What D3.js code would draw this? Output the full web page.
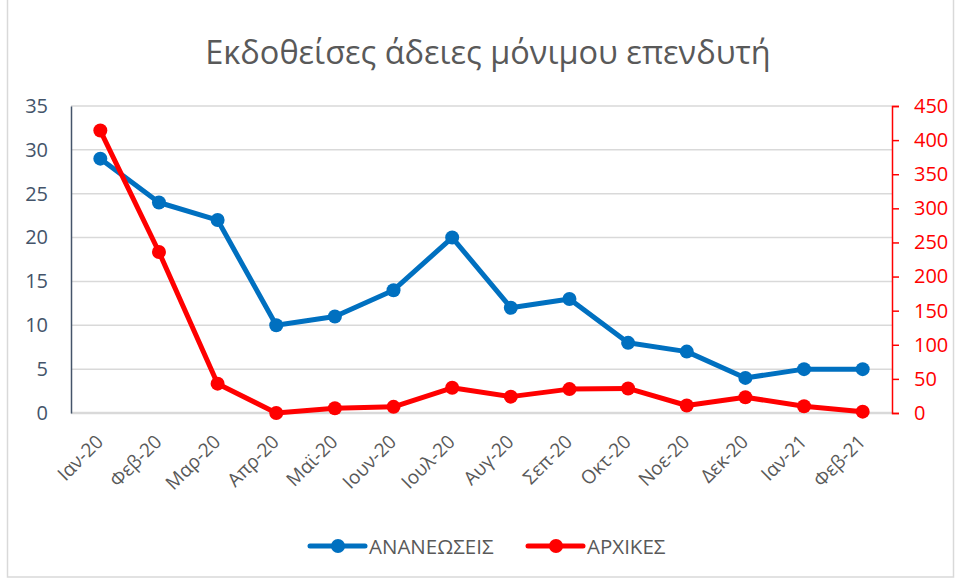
<!DOCTYPE html>
<html>
<head>
<meta charset="utf-8">
<script src="https://cdn.jsdelivr.net/npm/d3@7"></script>
<style>
  body { margin: 0; background: #fff; }
  svg { display: block; font-family: "Open Sans", "Noto Sans", sans-serif; }
</style>
</head>
<body>
<svg id="chart" width="955" height="579"></svg>
<script>
// DATA
var months = ['Ιαν-20', 'Φεβ-20', 'Μαρ-20', 'Απρ-20', 'Μαϊ-20', 'Ιουν-20', 'Ιουλ-20',
  'Αυγ-20', 'Σεπ-20', 'Οκτ-20', 'Νοε-20', 'Δεκ-20', 'Ιαν-21', 'Φεβ-21'];
var renewals = [29, 24, 22, 10, 11, 14, 20, 12, 13, 8, 7, 4, 5, 5];
var initial = [414, 236, 43, 0, 7, 9, 37, 24, 35, 36, 11, 23, 10, 2];
var leftTicks = [0, 5, 10, 15, 20, 25, 30, 35];
var rightTicks = [0, 50, 100, 150, 200, 250, 300, 350, 400, 450];

var blue = '#0070C0', red = '#FF0000';
var margin = { top: 106, left: 71, right: 63, bottom: 166 };
var W = 955, H = 579;
var width = W - margin.left - margin.right;
var height = H - margin.top - margin.bottom;

var svg = d3.select('#chart');

// frame
svg.append('rect')
  .attr('x', 7.5).attr('y', -2).attr('width', 946).attr('height', 579)
  .attr('fill', 'none').attr('stroke', '#d9d9d9').attr('stroke-width', 1.5);

// title
svg.append('text')
  .attr('x', 488).attr('y', 64)
  .attr('text-anchor', 'middle')
  .attr('fill', '#595959')
  .style('font-size', '32.5px')
  .text('Εκδοθείσες άδειες μόνιμου επενδυτή');

var g = svg.append('g').attr('transform', 'translate(' + margin.left + ',' + margin.top + ')');

// SCALES
var x = d3.scaleBand().domain(months).range([0, width]);
var yL = d3.scaleLinear().domain([0, 35]).range([height, 0]);
var yR = d3.scaleLinear().domain([0, 450]).range([height, 0]);
function cx(d) { return x(d) + x.bandwidth() / 2; }

// gridlines
g.append('g').selectAll('line')
  .data(leftTicks)
  .enter().append('line')
  .attr('x1', 0).attr('x2', width)
  .attr('y1', function(d) { return yL(d); })
  .attr('y2', function(d) { return yL(d); })
  .attr('stroke', '#d9d9d9')
  .attr('stroke-width', function(d) { return d === 0 ? 2.5 : 1.5; });

// left axis
var axL = g.append('g')
  .call(d3.axisLeft(yL).tickValues(leftTicks).tickSize(0).tickPadding(23));
axL.select('.domain').attr('stroke', '#44546A').attr('stroke-width', 1.5);
axL.selectAll('text').attr('fill', '#44546A').style('font-size', '20px')
  .style('font-family', '"Open Sans", sans-serif');

// right axis
var axR = g.append('g')
  .attr('transform', 'translate(' + width + ',0)')
  .call(d3.axisRight(yR).tickValues(rightTicks).tickSize(7).tickPadding(15));
axR.select('.domain').attr('stroke', red).attr('stroke-width', 1.5);
axR.selectAll('.tick line').attr('stroke', red).attr('stroke-width', 1.5);
axR.selectAll('text').attr('fill', red).style('font-size', '20px')
  .style('font-family', '"Open Sans", sans-serif');

// x axis labels
var axX = g.append('g')
  .attr('transform', 'translate(0,' + height + ')')
  .call(d3.axisBottom(x).tickSize(0).tickPadding(0));
axX.select('.domain').remove();
axX.selectAll('text')
  .attr('fill', '#595959')
  .style('font-size', '19px')
  .style('font-family', '"Open Sans", sans-serif')
  .attr('text-anchor', 'end')
  .attr('dy', null)
  .attr('transform', 'translate(4,30) rotate(-45)');

// lines
function drawSeries(values, scale, color) {
  var line = d3.line()
    .x(function(d, i) { return cx(months[i]); })
    .y(function(d) { return scale(d); });
  g.append('path')
    .datum(values)
    .attr('d', line)
    .attr('fill', 'none')
    .attr('stroke', color)
    .attr('stroke-width', 5)
    .attr('stroke-linejoin', 'round');
  g.append('g').selectAll('circle')
    .data(values)
    .enter().append('circle')
    .attr('cx', function(d, i) { return cx(months[i]); })
    .attr('cy', function(d) { return scale(d); })
    .attr('r', 7)
    .attr('fill', color);
}
drawSeries(renewals, yL, blue);
drawSeries(initial, yR, red);

// legend
var legend = [
  { name: 'ΑΝΑΝΕΩΣΕΙΣ', color: blue, x: 310 },
  { name: 'ΑΡΧΙΚΕΣ', color: red, x: 528 }
];
var lg = svg.append('g').selectAll('g')
  .data(legend)
  .enter().append('g')
  .attr('transform', function(d) { return 'translate(' + d.x + ',546)'; });
lg.append('line')
  .attr('x1', 0).attr('x2', 55)
  .attr('stroke', function(d) { return d.color; })
  .attr('stroke-width', 5).attr('stroke-linecap', 'round');
lg.append('circle')
  .attr('cx', 28).attr('r', 7)
  .attr('fill', function(d) { return d.color; });
lg.append('text')
  .attr('x', 59).attr('y', 7.5)
  .attr('fill', '#595959')
  .style('font-size', '20.5px')
  .text(function(d) { return d.name; });
</script>
</body>
</html>
